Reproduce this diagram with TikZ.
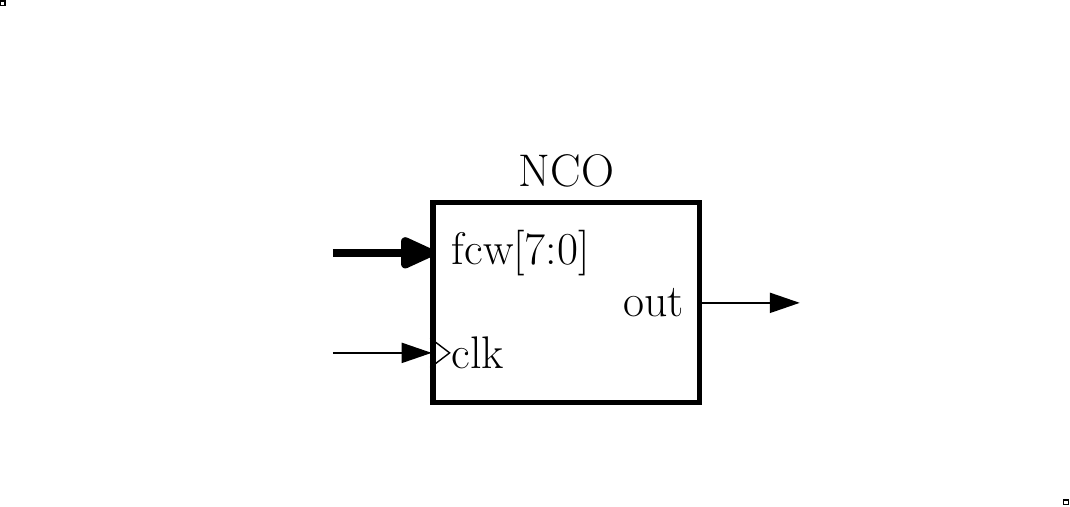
\documentclass[tikz,border=0pt]{standalone}
\usetikzlibrary{arrows.meta}

\tikzset{every picture/.style={line width=0.75pt}}

\begin{document}
\begin{tikzpicture}[
        block/.style={draw, line width=2.2pt, minimum width=4cm, minimum height=3cm, inner sep=0pt},
        port/.style={font=\fontsize{19.5}{23}\selectfont, inner sep=0pt},
        corner/.style={draw, line width=0.5pt, minimum size=0.07cm, inner sep=0pt},
        bus/.style={line width=3.6pt, -{Triangle[length=6mm, width=5mm, round]}},
        wire/.style={line width=0.9pt, -{Triangle[length=4.5mm, width=3mm]}}
    ]
        \useasboundingbox (-6.49,-1.55) rectangle (9.55,6.04);
        % corner marks
        \node[corner] (tl) at (-6.45,5.99) {};
        \node[corner] (br) at (9.49,-1.49) {};
        % the block
        \node[block] (nco) at (2,1.5) {};
        \node[port, anchor=base] (title) at (2,3.24) {NCO};
        \node[port, anchor=west] (fcw) at (0.27,2.25) {fcw[7:0]};
        \node[port, anchor=west] (clk) at (0.27,0.75) {clk};
        \node[port, anchor=east] (out) at (3.77,1.5) {out};
        % clock mark
        \draw[line width=0.6pt] (nco.west |- 0,0.97) -- (0.25,0.75) -- (nco.west |- 0,0.53);
        % connectors
        \coordinate (fcwin) at (-1.5,2.25);
        \coordinate (clkin) at (-1.5,0.75);
        \coordinate (outend) at (5.5,1.5);
        \draw[bus] (fcwin) -- ([xshift=0.06cm]nco.west |- fcwin);
        \draw[wire] (clkin) -- ([xshift=0.02cm]nco.west |- clkin);
        \draw[wire] (nco.east |- outend) -- (outend);
    \end{tikzpicture}
\end{document}
